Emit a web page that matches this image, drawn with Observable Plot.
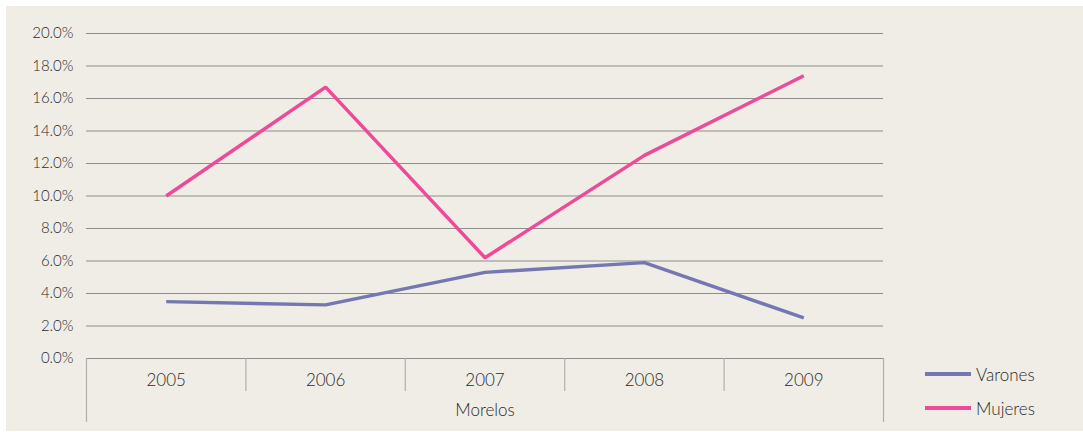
<!DOCTYPE html>
<html>
<head>
<meta charset="utf-8">
<script src="https://cdn.jsdelivr.net/npm/d3@7"></script>
<script src="https://cdn.jsdelivr.net/npm/@observablehq/plot@0.6"></script>
<style>
  html, body { margin: 0; padding: 0; background: #ffffff; }
  #wrap { position: relative; width: 1083px; height: 432px; overflow: hidden; }
  #bg { position: absolute; left: 6px; top: 6px; width: 1077px; height: 425px; background: #efede6; }
  #chart { position: absolute; left: 0; top: 0; }
  #legend { position: absolute; left: 925px; top: 357px; font-family: Lato, "Open Sans", sans-serif; font-weight: 300; font-size: 17px; color: #2a2a2a; }
  .item { display: flex; align-items: center; height: 34px; }
  .sw { width: 46px; height: 4px; margin-right: 5px; }
</style>
</head>
<body>
<div id="wrap">
  <div id="bg"></div>
  <div id="chart"></div>
  <div id="legend"></div>
</div>
<script>
const years = ["2005", "2006", "2007", "2008", "2009"];
const varones = [3.5, 3.3, 5.3, 5.9, 2.5];
const mujeres = [10.0, 16.7, 6.2, 12.5, 17.4];
const yTicks = [0, 2, 4, 6, 8, 10, 12, 14, 16, 18, 20];
const region = "Morelos";
const seriesNames = ["Varones", "Mujeres"];
const seriesColors = ["#7577b3", "#ee4a97"];

const rows = [];
years.forEach((yr, i) => {
  rows.push({series: "Varones", idx: i + 0.5, value: varones[i]});
  rows.push({series: "Mujeres", idx: i + 0.5, value: mujeres[i]});
});
const seps = d3.range(years.length + 1);
const innerSeps = seps.slice(1, -1);
const outerSeps = [seps[0], seps[seps.length - 1]];

const font = "Lato, 'Open Sans', sans-serif";

const chart = Plot.plot({
  width: 1083,
  height: 432,
  marginLeft: 86,
  marginRight: 200,
  marginTop: 33,
  marginBottom: 74,
  style: {background: "transparent", fontFamily: font, fontSize: "15px", fontWeight: 300, color: "#2a2a2a"},
  x: {type: "linear", domain: [0, years.length], axis: null},
  y: {domain: [0, 20], axis: null},
  color: {domain: seriesNames, range: seriesColors},
  marks: [
    Plot.ruleY(yTicks, {y: d => d, stroke: "#8e8e8e", strokeWidth: 1.2}),
    Plot.ruleX(innerSeps, {x: d => d, y1: 0, insetBottom: -33, stroke: "#b0b0b0", strokeWidth: 1.2}),
    Plot.ruleX(outerSeps, {x: d => d, y1: 0, insetBottom: -64, stroke: "#b0b0b0", strokeWidth: 1.2}),
    Plot.text(yTicks, {x: 0, y: d => d, text: d => d.toFixed(1) + "%", textAnchor: "end", dx: -13, fill: "#2a2a2a", fontSize: 15, fontWeight: 300}),
    Plot.text(years, {x: (d, i) => i + 0.5, y: 0, text: d => d, dy: 22, fill: "#2a2a2a", fontSize: 17, fontWeight: 300}),
    Plot.text([region], {x: years.length / 2, y: 0, text: d => d, dy: 52, fill: "#2a2a2a", fontSize: 17, fontWeight: 300}),
    Plot.line(rows, {x: "idx", y: "value", z: "series", stroke: "series", strokeWidth: 3.5, strokeLinejoin: "miter", strokeLinecap: "butt"})
  ]
});
document.getElementById("chart").appendChild(chart);

const legend = document.getElementById("legend");
seriesNames.forEach((name, i) => {
  const it = document.createElement("div");
  it.className = "item";
  const sw = document.createElement("div");
  sw.className = "sw";
  sw.style.background = seriesColors[i];
  const t = document.createElement("span");
  t.textContent = name;
  it.appendChild(sw);
  it.appendChild(t);
  legend.appendChild(it);
});
</script>
</body>
</html>
